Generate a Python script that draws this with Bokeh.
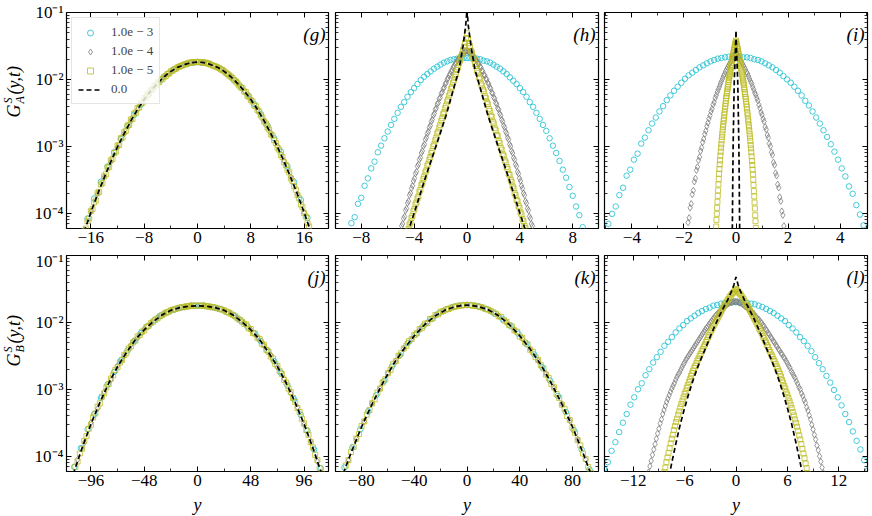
import numpy as np
from bokeh.plotting import figure
from bokeh.models import Range1d, FixedTicker, LogAxis, LinearAxis, Label, Legend, LegendItem
from bokeh.layouts import column, row
from bokeh.embed import file_html
from bokeh.resources import INLINE

FONT = "Liberation Serif"
CYAN, GRAY, OLIVE = "#17becf", "#7f7f7f", "#bcbd22"
YMIN, YMAX = 5.9e-5, 0.1

series_labels = ["1.0e − 3", "1.0e − 4", "1.0e − 5", "0.0"]
y_major = [1e-4, 1e-3, 1e-2, 1e-1]
y_major_labels = ["10⁻⁴", "10⁻³", "10⁻²", "10⁻¹"]
y_minor = [m * 10.0 ** e for e in range(-5, -1) for m in range(2, 10)]

# ---------------- data: log10 of G at histogram bin centres ----------------
# panel (g)
g_cyan = [-4.36,-4.08,-3.78,-3.53,-3.30,-3.09,-2.89,-2.70,-2.53,-2.38,-2.24,-2.12,-2.01,-1.92,-1.85,-1.80,-1.77,-1.75,
          -1.75,-1.76,-1.80,-1.85,-1.92,-2.01,-2.11,-2.23,-2.37,-2.52,-2.69,-2.88,-3.08,-3.30,-3.54,-3.80,-4.07,-4.38]
g_gray = [-4.25,-3.98,-3.71,-3.46,-3.23,-3.01,-2.81,-2.62,-2.45,-2.30,-2.17,-2.06,-1.96,-1.88,-1.82,-1.78,-1.75,
          -1.74,
          -1.75,-1.77,-1.82,-1.88,-1.96,-2.05,-2.17,-2.30,-2.45,-2.62,-2.80,-3.00,-3.22,-3.46,-3.72,-3.99,-4.27]
g_yellow = [-4.42,-4.38,-4.27,-4.23,-4.12,-4.08,-3.97,-3.94,-3.84,-3.81,
            -3.70,-3.68,-3.57,-3.55,-3.45,-3.42,-3.32,-3.31,-3.21,-3.19,
            -3.10,-3.08,-2.99,-2.98,-2.88,-2.87,-2.79,-2.77,-2.69,-2.68,
            -2.60,-2.59,-2.51,-2.50,-2.43,-2.42,-2.36,-2.35,-2.28,-2.28,
            -2.22,-2.21,-2.16,-2.15,-2.10,-2.09,-2.05,-2.04,-2.00,-1.99,
            -1.96,-1.95,-1.92,-1.91,-1.88,-1.87,-1.85,-1.84,-1.82,-1.81,
            -1.80,-1.79,-1.78,-1.77,-1.76,-1.75,-1.75,-1.75,-1.74,-1.74,
            -1.74,
            -1.74,-1.74,-1.75,-1.75,-1.75,-1.76,-1.77,-1.78,-1.79,-1.80,
            -1.81,-1.82,-1.83,-1.85,-1.86,-1.88,-1.90,-1.92,-1.94,-1.96,
            -1.98,-2.01,-2.03,-2.06,-2.09,-2.12,-2.13,-2.18,-2.19,-2.25,
            -2.26,-2.31,-2.33,-2.39,-2.40,-2.46,-2.48,-2.54,-2.57,-2.63,
            -2.66,-2.72,-2.75,-2.82,-2.84,-2.91,-2.95,-3.02,-3.05,-3.13,
            -3.16,-3.24,-3.28,-3.35,-3.39,-3.48,-3.52,-3.60,-3.65,-3.73,
            -3.78,-3.87,-3.91,-4.00,-4.05,-4.15,-4.20,-4.30,-4.35,-4.45]
g_line = [-4.28,-3.99,-3.72,-3.47,-3.23,-3.01,-2.81,-2.62,-2.45,-2.30,-2.17,-2.06,-1.96,-1.88,-1.82,-1.78,-1.75,
          -1.74,
          -1.75,-1.78,-1.82,-1.88,-1.96,-2.06,-2.17,-2.30,-2.45,-2.62,-2.81,-3.01,-3.23,-3.47,-3.72,-3.99,-4.28]

# panel (h)
h_cyan = [-4.15,-4.06,-3.86,-3.77,-3.59,-3.48,-3.33,-3.23,-3.09,-2.99,-2.88,-2.78,-2.68,-2.59,-2.50,-2.41,-2.34,-2.26,
          -2.19,-2.13,-2.07,-2.01,-1.96,-1.92,-1.88,-1.84,-1.81,-1.78,-1.75,-1.73,-1.71,-1.70,-1.69,-1.68,-1.68,
          -1.68,
          -1.68,-1.68,-1.69,-1.70,-1.72,-1.73,-1.75,-1.78,-1.81,-1.84,-1.88,-1.92,-1.97,-2.02,-2.07,-2.13,-2.19,
          -2.26,-2.34,-2.41,-2.50,-2.59,-2.68,-2.77,-2.88,-2.99,-3.10,-3.22,-3.35,-3.47,-3.61,-3.74,-3.90,-4.03,-4.21]
h_gray = [-4.44,-4.41,-4.31,-4.28,-4.19,-4.16,-4.08,-4.05,-3.96,-3.93,
          -3.85,-3.82,-3.73,-3.70,-3.63,-3.59,-3.52,-3.48,-3.41,-3.38,
          -3.30,-3.27,-3.20,-3.17,-3.10,-3.07,-3.00,-2.97,-2.90,-2.87,
          -2.81,-2.78,-2.72,-2.69,-2.63,-2.60,-2.54,-2.51,-2.45,-2.43,
          -2.37,-2.35,-2.29,-2.27,-2.21,-2.19,-2.14,-2.12,-2.07,-2.05,
          -2.00,-1.98,-1.94,-1.92,-1.88,-1.86,-1.82,-1.80,-1.77,-1.75,
          -1.72,-1.70,-1.68,-1.66,-1.64,-1.62,-1.61,-1.60,-1.58,-1.58,
          -1.57,
          -1.58,-1.59,-1.60,-1.61,-1.63,-1.64,-1.67,-1.68,-1.71,-1.72,
          -1.76,-1.77,-1.81,-1.82,-1.87,-1.88,-1.93,-1.94,-1.99,-2.00,
          -2.05,-2.07,-2.12,-2.14,-2.20,-2.21,-2.27,-2.29,-2.35,-2.37,
          -2.43,-2.45,-2.51,-2.54,-2.60,-2.63,-2.69,-2.72,-2.78,-2.81,
          -2.87,-2.90,-2.97,-3.00,-3.07,-3.10,-3.17,-3.20,-3.27,-3.30,
          -3.38,-3.41,-3.48,-3.52,-3.59,-3.63,-3.70,-3.73,-3.82,-3.85,
          -3.93,-3.96,-4.05,-4.08,-4.16,-4.19,-4.28,-4.31,-4.41,-4.44]
h_yellow = [-4.27,-4.24,-4.17,-4.14,-4.07,-4.04,-3.97,-3.94,-3.87,-3.84,
            -3.78,-3.75,-3.68,-3.65,-3.58,-3.55,-3.49,-3.45,-3.39,-3.36,
            -3.29,-3.26,-3.20,-3.16,-3.10,-3.07,-3.00,-2.97,-2.91,-2.87,
            -2.81,-2.78,-2.72,-2.68,-2.62,-2.58,-2.52,-2.49,-2.43,-2.39,
            -2.33,-2.30,-2.24,-2.20,-2.14,-2.11,-2.05,-2.01,-1.96,-1.92,
            -1.86,-1.82,-1.76,-1.72,-1.66,-1.62,-1.56,-1.51,-1.45,-1.39,
            -1.31,
            -1.39,-1.46,-1.50,-1.57,-1.60,-1.67,-1.70,-1.77,-1.80,-1.87,
            -1.90,-1.97,-1.99,-2.06,-2.09,-2.15,-2.18,-2.25,-2.28,-2.34,
            -2.37,-2.44,-2.47,-2.54,-2.56,-2.63,-2.66,-2.73,-2.76,-2.83,
            -2.85,-2.92,-2.95,-3.02,-3.05,-3.12,-3.14,-3.21,-3.24,-3.31,
            -3.34,-3.41,-3.43,-3.50,-3.53,-3.60,-3.63,-3.70,-3.73,-3.80,
            -3.82,-3.89,-3.92,-3.99,-4.02,-4.09,-4.12,-4.19,-4.22,-4.29]
h_line_x = [-4.5,-4.0,-3.2,-2.35,-1.6,-1.1,-0.6,-0.3,-0.1,0.0,0.1,0.3,0.6,1.1,1.6,2.35,3.2,4.0,4.5]
h_line = [-4.30,-4.00,-3.50,-3.00,-2.55,-2.20,-1.85,-1.50,-1.20,-0.95,-1.20,-1.50,-1.85,-2.20,-2.55,-3.00,-3.50,-4.00,-4.30]

# panel (i)
i_cyan = [-4.16,-4.01,-3.90,-3.73,-3.62,-3.44,-3.35,-3.20,-3.11,-2.96,-2.87,-2.76,-2.66,-2.57,-2.48,-2.40,-2.31,-2.24,
          -2.17,-2.11,-2.05,-1.99,-1.94,-1.90,-1.86,-1.82,-1.79,-1.76,-1.73,-1.71,-1.69,-1.68,-1.67,-1.66,-1.66,
          -1.66,
          -1.66,-1.67,-1.67,-1.68,-1.70,-1.71,-1.73,-1.76,-1.79,-1.82,-1.86,-1.90,-1.95,-2.00,-2.05,-2.11,-2.17,
          -2.24,-2.32,-2.39,-2.48,-2.57,-2.66,-2.76,-2.86,-2.97,-3.08,-3.20,-3.33,-3.45,-3.60,-3.71,-3.88,-4.02,-4.18]
i_gray = [-4.14,-4.07,-3.92,-3.86,-3.72,-3.66,-3.53,-3.48,-3.36,-3.31,
          -3.21,-3.16,-3.07,-3.02,-2.94,-2.89,-2.82,-2.77,-2.70,-2.65,
          -2.59,-2.54,-2.48,-2.44,-2.38,-2.34,-2.28,-2.24,-2.19,-2.15,
          -2.11,-2.07,-2.03,-1.99,-1.95,-1.92,-1.88,-1.85,-1.82,-1.79,
          -1.76,-1.73,-1.70,-1.67,-1.65,-1.62,
          -1.60,
          -1.62,-1.65,-1.68,-1.70,-1.73,-1.76,-1.79,-1.82,-1.85,-1.89,
          -1.91,-1.95,-1.99,-2.03,-2.06,-2.11,-2.15,-2.20,-2.23,-2.28,
          -2.32,-2.38,-2.43,-2.49,-2.53,-2.59,-2.63,-2.71,-2.75,-2.83,
          -2.87,-2.96,-3.00,-3.09,-3.13,-3.24,-3.28,-3.40,-3.44,-3.57,
          -3.62,-3.76,-3.82,-3.97,-4.03,-4.19]
i_yellow = [-4.47,-4.39,-4.29,-4.20,-4.10,-4.01,-3.92,-3.83,
            -3.74,-3.66,-3.57,-3.49,-3.41,-3.34,-3.27,-3.21,
            -3.14,-3.08,-3.02,-2.97,-2.91,-2.86,-2.81,-2.76,
            -2.71,-2.67,-2.62,-2.58,-2.53,-2.49,-2.44,-2.40,
            -2.36,-2.32,-2.28,-2.25,-2.21,-2.18,-2.14,-2.11,
            -2.08,-2.04,-2.01,-1.98,-1.95,-1.92,-1.89,-1.86,
            -1.83,-1.80,-1.78,-1.75,-1.72,-1.69,-1.67,-1.64,
            -1.61,-1.59,-1.56,-1.54,-1.51,-1.49,-1.46,-1.44,
            -1.42,
            -1.44,-1.47,-1.50,-1.52,-1.54,-1.57,-1.60,-1.62,
            -1.65,-1.67,-1.70,-1.73,-1.76,-1.78,-1.81,-1.84,
            -1.87,-1.90,-1.93,-1.96,-1.99,-2.02,-2.05,-2.08,
            -2.12,-2.15,-2.19,-2.22,-2.26,-2.29,-2.33,-2.37,
            -2.41,-2.45,-2.50,-2.54,-2.59,-2.63,-2.68,-2.72,
            -2.77,-2.82,-2.87,-2.92,-2.98,-3.03,-3.09,-3.15,
            -3.22,-3.28,-3.35,-3.42,-3.50,-3.58,-3.67,-3.75,
            -3.84,-3.93,-4.03,-4.12,-4.22,-4.31,-4.41,-4.50]
i_line_x = [-0.15,-0.14,-0.125,-0.11,-0.095,-0.08,-0.065,-0.05,-0.04,-0.03,-0.02,-0.01,0.0,
            0.01,0.02,0.03,0.04,0.05,0.065,0.08,0.095,0.11,0.125,0.14,0.15]
i_line = [-4.6,-4.2,-3.55,-3.0,-2.65,-2.3,-2.0,-1.87,-1.77,-1.67,-1.55,-1.42,-1.27,
          -1.42,-1.55,-1.67,-1.77,-1.87,-2.0,-2.3,-2.65,-3.0,-3.55,-4.2,-4.6]

# panel (j)
j_cyan = [-4.16,-3.88,-3.60,-3.37,-3.13,-2.93,-2.74,-2.57,-2.42,-2.28,-2.16,-2.06,-1.97,-1.90,-1.85,-1.81,-1.78,-1.76,-1.75,
          -1.75,-1.76,-1.78,-1.80,-1.85,-1.90,-1.97,-2.06,-2.16,-2.28,-2.42,-2.58,-2.75,-2.94,-3.15,-3.38,-3.62,-3.90,-4.18]
j_gray = [-4.36,-4.05,-3.80,-3.50,-3.29,-3.04,-2.86,-2.65,-2.50,-2.34,-2.23,-2.10,-2.02,-1.93,-1.87,-1.82,-1.79,-1.77,-1.75,
          -1.75,
          -1.75,-1.77,-1.79,-1.82,-1.87,-1.94,-2.01,-2.11,-2.22,-2.35,-2.49,-2.67,-2.84,-3.06,-3.27,-3.53,-3.78,-4.08,-4.36]
j_yellow = [-4.28,-4.16,-4.08,-3.96,-3.89,-3.77,-3.70,-3.59,-3.53,-3.42,
            -3.36,-3.26,-3.21,-3.11,-3.06,-2.97,-2.92,-2.84,-2.79,-2.71,
            -2.67,-2.60,-2.56,-2.49,-2.46,-2.39,-2.36,-2.30,-2.27,-2.21,
            -2.19,-2.14,-2.12,-2.07,-2.05,-2.01,-1.99,-1.96,-1.94,-1.91,
            -1.89,-1.87,-1.85,-1.84,-1.82,-1.81,-1.80,-1.79,-1.78,-1.77,
            -1.77,-1.76,-1.76,-1.75,-1.75,-1.75,
            -1.75,
            -1.75,-1.75,-1.75,-1.76,-1.76,-1.77,-1.77,-1.78,-1.79,-1.80,
            -1.81,-1.82,-1.84,-1.85,-1.87,-1.89,-1.91,-1.94,-1.96,-1.99,
            -2.02,-2.03,-2.09,-2.10,-2.16,-2.17,-2.23,-2.25,-2.32,-2.34,
            -2.41,-2.44,-2.51,-2.54,-2.62,-2.65,-2.73,-2.77,-2.86,-2.90,
            -2.99,-3.04,-3.13,-3.19,-3.28,-3.34,-3.44,-3.51,-3.61,-3.68,
            -3.79,-3.87,-3.98,-4.06,-4.18,-4.26]
j_line = [-4.27,-3.88,-3.52,-3.20,-2.91,-2.66,-2.45,-2.26,-2.11,-1.99,-1.89,-1.82,-1.78,-1.76,-1.75,
          -1.76,-1.78,-1.82,-1.89,-1.99,-2.11,-2.26,-2.45,-2.66,-2.91,-3.20,-3.52,-3.88,-4.27]

# panel (k)
k_cyan = [-4.17,-3.87,-3.60,-3.33,-3.09,-2.88,-2.66,-2.49,-2.31,-2.18,-2.05,-1.95,-1.86,-1.80,-1.76,-1.74,
          -1.74,-1.76,-1.80,-1.87,-1.95,-2.05,-2.17,-2.32,-2.48,-2.67,-2.87,-3.10,-3.34,-3.61,-3.90,-4.20]
k_gray = [-4.35,-4.06,-3.74,-3.48,-3.21,-2.99,-2.76,-2.58,-2.39,-2.25,-2.11,-2.00,-1.90,-1.83,-1.78,-1.75,
          -1.74,
          -1.75,-1.78,-1.83,-1.90,-2.00,-2.11,-2.24,-2.40,-2.57,-2.77,-2.98,-3.22,-3.47,-3.75,-4.05,-4.37]
k_yellow = [-4.36,-4.27,-4.14,-4.06,-3.94,-3.86,-3.74,-3.67,-3.55,-3.48,
            -3.38,-3.31,-3.21,-3.15,-3.05,-2.99,-2.90,-2.85,-2.76,-2.71,
            -2.62,-2.58,-2.50,-2.46,-2.39,-2.35,-2.28,-2.25,-2.19,-2.16,
            -2.10,-2.08,-2.02,-2.01,-1.95,-1.94,-1.89,-1.88,-1.84,-1.83,
            -1.81,-1.80,-1.78,-1.77,-1.76,-1.75,-1.75,-1.74,
            -1.74,
            -1.74,-1.75,-1.75,-1.76,-1.77,-1.78,-1.80,-1.81,-1.83,-1.85,
            -1.87,-1.91,-1.92,-1.97,-1.99,-2.04,-2.06,-2.12,-2.14,-2.21,
            -2.23,-2.30,-2.33,-2.41,-2.44,-2.52,-2.56,-2.64,-2.69,-2.78,
            -2.83,-2.92,-2.97,-3.07,-3.13,-3.23,-3.29,-3.40,-3.46,-3.57,
            -3.65,-3.76,-3.84,-3.96,-4.04,-4.16,-4.25,-4.38]
k_line = [-4.37,-3.95,-3.56,-3.22,-2.91,-2.63,-2.40,-2.20,-2.03,-1.90,-1.81,-1.76,-1.74,
          -1.76,-1.81,-1.90,-2.03,-2.20,-2.40,-2.63,-2.91,-3.22,-3.56,-3.95,-4.37]

# panel (l)
l_cyan = [-4.19,-4.09,-3.92,-3.79,-3.64,-3.50,-3.37,-3.23,-3.12,-3.00,-2.91,-2.79,-2.70,-2.60,-2.52,-2.44,-2.35,-2.29,
          -2.22,-2.15,-2.09,-2.04,-1.98,-1.94,-1.90,-1.86,-1.83,-1.80,-1.78,-1.75,-1.74,-1.72,-1.71,-1.70,-1.70,
          -1.70,
          -1.70,-1.70,-1.71,-1.72,-1.73,-1.75,-1.77,-1.80,-1.83,-1.86,-1.90,-1.94,-1.98,-2.04,-2.09,-2.15,-2.22,
          -2.28,-2.35,-2.43,-2.52,-2.61,-2.70,-2.80,-2.90,-3.01,-3.12,-3.24,-3.37,-3.49,-3.63,-3.77,-3.90,-4.06,-4.21]
l_gray = [-4.41,-4.32,-4.24,-4.15,-4.07,-3.98,-3.90,-3.82,-3.74,-3.66,
          -3.59,-3.51,-3.45,-3.37,-3.31,-3.25,-3.19,-3.14,-3.09,-3.04,
          -2.99,-2.95,-2.91,-2.86,-2.82,-2.78,-2.75,-2.71,-2.67,-2.63,
          -2.60,-2.56,-2.53,-2.50,-2.47,-2.44,-2.41,-2.38,-2.35,-2.32,
          -2.29,-2.26,-2.23,-2.20,-2.17,-2.14,-2.11,-2.08,-2.06,-2.03,
          -2.00,-1.98,-1.95,-1.93,-1.90,-1.88,-1.86,-1.84,-1.82,-1.80,
          -1.78,-1.76,-1.75,-1.73,-1.72,-1.71,-1.70,-1.70,-1.69,-1.69,
          -1.69,
          -1.69,-1.70,-1.71,-1.71,-1.73,-1.74,-1.76,-1.77,-1.79,-1.80,
          -1.83,-1.84,-1.86,-1.87,-1.91,-1.92,-1.95,-1.96,-1.99,-2.01,
          -2.04,-2.06,-2.10,-2.12,-2.16,-2.18,-2.22,-2.24,-2.28,-2.30,
          -2.34,-2.36,-2.40,-2.42,-2.46,-2.48,-2.52,-2.54,-2.58,-2.61,
          -2.65,-2.68,-2.73,-2.76,-2.80,-2.83,-2.88,-2.92,-2.97,-3.00,
          -3.06,-3.10,-3.16,-3.20,-3.27,-3.32,-3.39,-3.45,-3.53,-3.60,
          -3.68,-3.75,-3.84,-3.91,-4.00,-4.08,-4.17,-4.25,-4.34,-4.42]
l_yellow = [-4.31,-4.24,-4.17,-4.09,-4.02,-3.95,-3.88,-3.81,-3.74,-3.68,
            -3.61,-3.55,-3.49,-3.44,-3.38,-3.33,-3.27,-3.22,-3.17,-3.12,
            -3.07,-3.03,-2.98,-2.94,-2.89,-2.85,-2.80,-2.76,-2.72,-2.68,
            -2.65,-2.61,-2.57,-2.54,-2.50,-2.47,-2.43,-2.40,-2.36,-2.33,
            -2.29,-2.26,-2.22,-2.19,-2.15,-2.12,-2.09,-2.05,-2.02,-1.99,
            -1.96,-1.93,-1.90,-1.87,-1.84,-1.81,-1.78,-1.75,-1.73,-1.70,
            -1.67,-1.65,-1.62,-1.60,-1.58,-1.56,-1.54,-1.52,
            -1.50,
            -1.52,-1.54,-1.56,-1.58,-1.60,-1.63,-1.65,-1.68,-1.71,-1.74,
            -1.76,-1.79,-1.82,-1.85,-1.88,-1.91,-1.94,-1.97,-2.00,-2.03,
            -2.06,-2.10,-2.13,-2.16,-2.20,-2.23,-2.27,-2.30,-2.34,-2.37,
            -2.41,-2.44,-2.48,-2.51,-2.55,-2.58,-2.62,-2.66,-2.69,-2.73,
            -2.77,-2.81,-2.86,-2.90,-2.95,-2.99,-3.04,-3.08,-3.13,-3.18,
            -3.23,-3.28,-3.34,-3.39,-3.45,-3.50,-3.56,-3.62,-3.69,-3.75,
            -3.82,-3.89,-3.96,-4.03,-4.11,-4.18,-4.26,-4.33]
l_line_x = [-8,-7.5,-7,-6.5,-6,-5.5,-5,-4.5,-4,-3.5,-3,-2.5,-2,-1.5,-1,-0.5,-0.25,0,
            0.25,0.5,1,1.5,2,2.5,3,3.5,4,4.5,5,5.5,6,6.5,7,7.5,8]
l_line = [-4.42,-4.10,-3.80,-3.52,-3.28,-3.06,-2.86,-2.68,-2.52,-2.37,-2.21,-2.06,-1.92,-1.79,-1.67,-1.53,-1.44,-1.32,
          -1.44,-1.53,-1.67,-1.79,-1.92,-2.06,-2.21,-2.37,-2.52,-2.68,-2.86,-3.06,-3.28,-3.52,-3.80,-4.10,-4.42]

# bin-centre extents (first, last) for each marker series
panels = {
    "g": dict(xr=19.65, maj=[-16, -8, 0, 8, 16], mnr=[-12, -4, 4, 12],
              cyan=(g_cyan, -17.5, 17.5), gray=(g_gray, -17, 17), yellow=(g_yellow, -17.5, 17.5),
              line=(np.linspace(-17, 17, len(g_line)), g_line)),
    "h": dict(xr=9.95, maj=[-8, -4, 0, 4, 8], mnr=[-6, -2, 2, 6],
              cyan=(h_cyan, -8.75, 8.75), gray=(h_gray, -5.25, 5.25), yellow=(h_yellow, -4.5, 4.5),
              line=(h_line_x, h_line)),
    "i": dict(xr=5.05, maj=[-4, -2, 0, 2, 4], mnr=[-5, -3, -1, 1, 3, 5],
              cyan=(i_cyan, -4.9, 4.9), gray=(i_gray, -1.84, 1.84), yellow=(i_yellow, -0.8, 0.8),
              line=(i_line_x, i_line)),
    "j": dict(xr=118, maj=[-96, -48, 0, 48, 96], mnr=[-72, -24, 24, 72],
              cyan=(j_cyan, -111, 111), gray=(j_gray, -114, 114), yellow=(j_yellow, -112, 112),
              line=(np.linspace(-112, 112, len(j_line)), j_line)),
    "k": dict(xr=99.8, maj=[-80, -40, 0, 40, 80], mnr=[-60, -20, 20, 60],
              cyan=(k_cyan, -93, 93), gray=(k_gray, -96, 96), yellow=(k_yellow, -96, 96),
              line=(np.linspace(-96, 96, len(k_line)), k_line)),
    "l": dict(xr=15.35, maj=[-12, -6, 0, 6, 12], mnr=[-15, -9, -3, 3, 9, 15],
              cyan=(l_cyan, -15.4, 15.4), gray=(l_gray, -10.5, 10.5), yellow=(l_yellow, -8.5, 8.5),
              line=(l_line_x, l_line)),
}

FRAME_H = 216
FRAME_W = 262


def style_axis(ax, ticks, labels):
    ax.axis_line_color = None
    ax.major_tick_in = 5
    ax.major_tick_out = 0
    ax.minor_tick_in = 3
    ax.minor_tick_out = 0
    ax.major_tick_line_color = "black"
    ax.minor_tick_line_color = "black"
    ax.major_tick_line_width = 1
    ax.minor_tick_line_width = 0.8
    ax.major_label_text_font = FONT
    ax.major_label_text_color = "black"
    ax.major_label_text_font_size = "17px"
    if labels is None:
        ax.major_label_overrides = {t: "" for t in ticks}
        ax.major_label_standoff = 0
    else:
        ax.major_label_overrides = dict(zip(ticks, labels))
        ax.major_label_standoff = 3


def make_panel(key, width, bl, br, bt, bb, show_y=False, legend=False):
    d = panels[key]
    p = figure(width=width, height=bt + FRAME_H + bb,
               x_range=Range1d(-d["xr"], d["xr"]), y_range=Range1d(YMIN, YMAX),
               y_axis_type="log", output_backend="svg", toolbar_location=None,
               min_border_left=bl, min_border_right=br, min_border_top=bt, min_border_bottom=bb)
    p.grid.visible = False
    p.outline_line_color = "black"
    p.outline_line_width = 1.2
    p.background_fill_color = "white"
    p.border_fill_color = "white"
    frame_w = width - bl - br

    xt = FixedTicker(ticks=d["maj"], minor_ticks=d["mnr"])
    yt = FixedTicker(ticks=y_major, minor_ticks=y_minor)
    xlabels = [str(t).replace("-", "−") for t in d["maj"]]

    bx = p.xaxis[0]
    bx.ticker = xt
    style_axis(bx, d["maj"], xlabels)
    ly = p.yaxis[0]
    ly.ticker = yt
    style_axis(ly, y_major, y_major_labels if show_y else None)

    top = LinearAxis(ticker=xt)
    style_axis(top, d["maj"], None)
    p.add_layout(top, "above")
    right = LogAxis(ticker=yt)
    style_axis(right, y_major, None)
    p.add_layout(right, "right")

    def xs(lo, hi, vals):
        return np.linspace(lo, hi, len(vals))

    v, lo, hi = d["cyan"]
    rc = p.scatter(xs(lo, hi, v), 10.0 ** np.array(v), marker="circle", size=5.5,
                   line_color=CYAN, fill_color=None, line_width=0.8)
    v, lo, hi = d["gray"]
    rg = p.scatter(xs(lo, hi, v), 10.0 ** np.array(v), marker="diamond", size=6.5,
                   line_color=GRAY, fill_color=None, line_width=0.8)
    v, lo, hi = d["yellow"]
    ry = p.scatter(xs(lo, hi, v), 10.0 ** np.array(v), marker="square", size=5,
                   line_color=OLIVE, fill_color=None, line_width=0.8)
    lx, lv = d["line"]
    rl = p.line(lx, 10.0 ** np.array(lv), line_color="black", line_width=1.7, line_dash="5 3")

    p.add_layout(Label(x=frame_w - 3, y=FRAME_H - 11, x_units="screen", y_units="screen",
                       text="(" + key + ")", text_align="right", text_baseline="top",
                       text_font=FONT, text_font_style="italic", text_font_size="19px",
                       text_color="black"))

    if legend:
        lg = Legend(items=[LegendItem(label=series_labels[0], renderers=[rc]),
                           LegendItem(label=series_labels[1], renderers=[rg]),
                           LegendItem(label=series_labels[2], renderers=[ry]),
                           LegendItem(label=series_labels[3], renderers=[rl])],
                    location="top_left")
        lg.margin = 5
        lg.padding = 6
        lg.spacing = 3
        lg.glyph_width = 24
        lg.glyph_height = 15
        lg.label_standoff = 9
        lg.label_text_font = FONT
        lg.label_text_font_size = "13px"
        lg.border_line_color = "#cccccc"
        lg.border_line_width = 1
        lg.background_fill_alpha = 0.8
        p.add_layout(lg)
    return p


def text_strip(width, height, labels):
    p = figure(width=width, height=height, x_range=Range1d(0, 1), y_range=Range1d(0, 1),
               output_backend="svg", toolbar_location=None,
               x_axis_location=None, y_axis_location=None, min_border=0)
    p.xgrid.visible = False
    p.ygrid.visible = False
    p.grid.visible = False
    p.outline_line_color = None
    p.background_fill_color = "white"
    p.border_fill_color = "white"
    for lab in labels:
        p.add_layout(lab)
    return p


def ylabel_pieces(sub, yc):
    common = dict(x_units="screen", y_units="screen", angle=np.pi / 2, text_font=FONT,
                  text_font_style="italic", text_baseline="middle", text_align="left",
                  text_color="black")
    y0 = yc - 26
    return [Label(x=13, y=y0, text="G", text_font_size="18px", **common),
            Label(x=7, y=y0 + 14, text="S", text_font_size="12px", **common),
            Label(x=19, y=y0 + 14, text=sub, text_font_size="12px", **common),
            Label(x=13, y=y0 + 23, text="(y,t)", text_font_size="18px", **common)]


TOP_H = 12 + FRAME_H + 23
BOT_H = 4 + FRAME_H + 23
STRIP_H = 516 - TOP_H - BOT_H

pg = make_panel("g", 305, 40, 3, 12, 23, show_y=True, legend=True)
ph = make_panel("h", 270, 4, 3, 12, 23)
pi_ = make_panel("i", 271, 3, 5, 12, 23)
pj = make_panel("j", 305, 40, 3, 4, 23, show_y=True)
pk = make_panel("k", 270, 4, 3, 4, 23)
pl = make_panel("l", 271, 3, 5, 4, 23)

lab_top = text_strip(26, TOP_H, ylabel_pieces("A", TOP_H - 114))
lab_bot = text_strip(26, BOT_H, ylabel_pieces("B", BOT_H - 112))

xl_common = dict(y=11.5, x_units="screen", y_units="screen", text="y", text_align="center",
                 text_baseline="alphabetic", text_font=FONT, text_font_style="italic",
                 text_font_size="18px", text_color="black")
strip = text_strip(872, STRIP_H, [Label(x=26 + 40 + FRAME_W / 2, **xl_common),
                                  Label(x=26 + 305 + 4 + 263 / 2, **xl_common),
                                  Label(x=26 + 305 + 270 + 3 + 263 / 2, **xl_common)])

layout = column(row(lab_top, pg, ph, pi_, spacing=0),
                row(lab_bot, pj, pk, pl, spacing=0),
                strip, spacing=0)

with open("out.html", "w") as f:
    f.write(file_html(layout, INLINE))
